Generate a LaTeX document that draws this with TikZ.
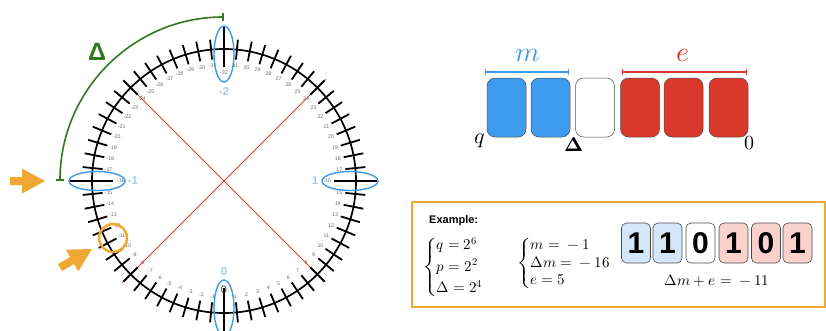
\documentclass[tikz,border=0pt]{standalone}
\usepackage{amsmath}
\usepackage{fontspec}
\usepackage{unicode-math}
\setsansfont{Liberation Sans}
\usetikzlibrary{arrows.meta}
\definecolor{ringblue}{HTML}{3D9BF0}
\definecolor{softblue}{HTML}{9FCDF3}
\definecolor{blockred}{HTML}{D9382A}
\definecolor{diagred}{HTML}{D9442B}
\definecolor{arcgreen}{HTML}{2F7A1F}
\definecolor{boxorange}{HTML}{F0A835}
\definecolor{bitblue}{HTML}{D3E7F9}
\definecolor{bitred}{HTML}{F9D1CD}
\definecolor{lblgrey}{HTML}{6A6A6A}
\begin{document}
\begin{tikzpicture}[x=1pt,y=-1pt,
  tickline/.style={line width=1.8pt,black},
  ticklbl/.style={text=lblgrey,font=\sffamily\fontsize{5.3}{6}\selectfont,inner sep=0pt},
  bluelbl/.style={text=softblue,font=\sffamily\bfseries\fontsize{11.5}{12}\selectfont,inner sep=0pt},
  ringell/.style={ringblue,line width=1.4pt},
  diagline/.style={diagred,line width=1pt},
  fatarrow/.style={fill=boxorange,draw=none},
  block/.style={draw=black!70,line width=0.5pt,rounded corners=8pt,minimum width=39pt,minimum height=59pt,inner sep=0pt},
  bitbox/.style={draw=black!70,line width=0.6pt,rounded corners=5pt,minimum width=29pt,minimum height=40pt,inner sep=0pt,font=\sffamily\bfseries\fontsize{30}{30}\selectfont},
  mathlbl/.style={inner sep=0pt}
]
\useasboundingbox (0,0) rectangle (826,330);

% ---------------- clock ----------------
\begin{scope}[shift={(224,181)}]
  \draw[diagline] (135:144) -- (-45:144);
  \draw[diagline] (45:143) -- (-135:143);
  \draw[line width=1.7pt] (0,0) circle[radius=132];
  \foreach \k in {-32,...,31}{
    \draw[tickline] ({90-5.625*\k}:122) -- ({90-5.625*\k}:142);
  }
  \foreach \k in {-31,...,31}{
    \ifnum\k=0 \else\ifnum\k=16 \else\ifnum\k=-16 \else
      \node[ticklbl] at ({90-5.625*\k}:116) {\k};
    \fi\fi\fi
  }
  % long marks
  \draw[tickline] (270:114) -- (270:154);
  \draw[tickline] (180:111) -- (180:154);
  \draw[tickline] (0:110) -- (0:154);
  \draw[tickline] (90:107) -- (90:158);
  \node[ticklbl] at (270:108) {-32};
  \node[ticklbl] at (180:103) {-16};
  \node[ticklbl] at (0:104) {16};
  \node[text=black!75,font=\sffamily\fontsize{11}{11}\selectfont,inner sep=0pt] (zerolbl) at (90:109) {0};
  % blue ellipses
  \draw[ringell] (0,-127) ellipse[x radius=10,y radius=28];
  \draw[ringell] (0,127) ellipse[x radius=10,y radius=28];
  \draw[ringell] (-127,0) ellipse[x radius=28,y radius=9.5];
  \draw[ringell] (126,0) ellipse[x radius=28,y radius=9.5];
  \node[bluelbl] (lm2) at (270:90) {-2};
  \node[bluelbl] (lm1) at (180:91) {-1};
  \node[bluelbl] (lp1) at (0:91) {1};
  \node[bluelbl] (lz) at (90:91) {0};
  % Delta arc
  \draw[arcgreen,line width=1.6pt,{Bar[width=8pt]}-{Bar[width=8pt]}] (180:164) arc[start angle=180,end angle=270,radius=164];
\end{scope}
\node[text=arcgreen,font=\sffamily\bfseries\fontsize{25}{25}\selectfont,inner sep=0pt] (dlbl) at (97,52) {Δ};

% orange markers
\draw[boxorange,line width=2.5pt] (113,238) circle[radius=14];
\fill[fatarrow] (10,177) -- (22,177) -- (22,168.5) -- (45,181) -- (22,193.5) -- (22,185) -- (10,185) -- cycle;
\begin{scope}[shift={(92,249)},rotate=30]
  \fill[fatarrow] (0,0) -- (-23,-12.5) -- (-23,-4) -- (-37,-4) -- (-37,4) -- (-23,4) -- (-23,12.5) -- cycle;
\end{scope}

% ---------------- blocks ----------------
\node[block,fill=ringblue] (b1) at (506.5,107.5) {};
\node[block,fill=ringblue] (b2) at (550.5,107.5) {};
\node[block,fill=white] (b3) at (595,107.5) {};
\node[block,fill=blockred] (b4) at (640,107.5) {};
\node[block,fill=blockred] (b5) at (683.5,107.5) {};
\node[block,fill=blockred] (b6) at (728.5,107.5) {};
\draw[ringblue,line width=1.3pt,{Bar[width=6pt]}-{Bar[width=6pt]}] (485,72) -- (569,72);
\draw[blockred,line width=1.3pt,{Bar[width=6pt]}-{Bar[width=6pt]}] (622,72) -- (747,72);
\node[mathlbl,text=ringblue,font=\fontsize{28}{30}\selectfont] (mlbl) at (528,55) {$m$};
\node[mathlbl,text=blockred,font=\fontsize{28}{30}\selectfont] (elbl) at (683,55) {$e$};
\node[mathlbl,font=\fontsize{22}{24}\selectfont] (qlbl) at (480,141) {$q$};
\node[mathlbl,font=\fontsize{20}{22}\selectfont] (dellbl) at (574,145) {$\symbf{\Delta}$};
\node[mathlbl,font=\fontsize{20}{22}\selectfont] (zlbl) at (749,143) {$0$};

% ---------------- example ----------------
\draw[boxorange,line width=1.8pt] (412,202) rectangle (825,307);
\node[anchor=west,inner sep=0pt,font=\sffamily\bfseries\fontsize{11}{13}\selectfont] (ex) at (429,221) {Example:};
\node[anchor=west,inner sep=0pt,font=\fontsize{15}{17}\selectfont] (cs1) at (423,267)
  {$\begin{cases} q=2^6\\[1pt] p=2^2\\[1pt] \Delta=2^4\end{cases}$};
\node[anchor=west,inner sep=0pt,font=\fontsize{15}{17}\selectfont] (cs2) at (517,263)
  {$\begin{cases} m={}-1\\[-3pt] \Delta m={}-16\\[-3pt] e=5\end{cases}$};
\node[bitbox,fill=bitblue] (t1) at (636,243) {1};
\node[bitbox,fill=bitblue] (t2) at (667.5,243) {1};
\node[bitbox,fill=white] (t3) at (700.5,243) {0};
\node[bitbox,fill=bitred] (t4) at (733.5,243) {1};
\node[bitbox,fill=bitred] (t5) at (766,243) {0};
\node[bitbox,fill=bitred] (t6) at (797.5,243) {1};
\node[mathlbl,font=\fontsize{15}{17}\selectfont] (sum) at (717,281) {$\Delta m+e={}-11$};
\end{tikzpicture}
\end{document}
